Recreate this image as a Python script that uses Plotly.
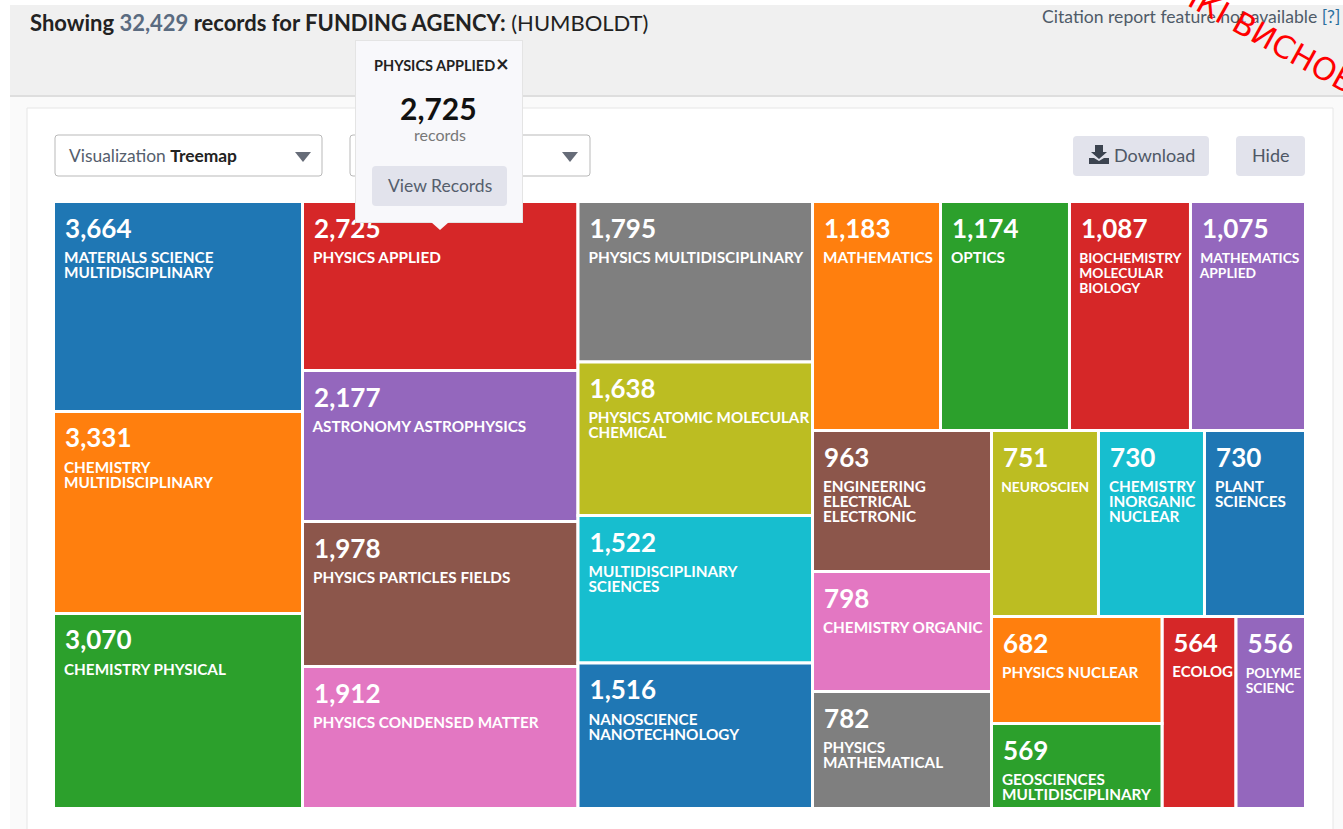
import plotly.graph_objects as go

# Displayed values (records) and labels, as printed on the tiles (clipped labels as they appear).
categories = ["MATERIALS SCIENCE<br>MULTIDISCIPLINARY", "CHEMISTRY<br>MULTIDISCIPLINARY", "CHEMISTRY PHYSICAL",
              "PHYSICS APPLIED", "ASTRONOMY ASTROPHYSICS", "PHYSICS PARTICLES FIELDS", "PHYSICS CONDENSED MATTER",
              "PHYSICS MULTIDISCIPLINARY", "PHYSICS ATOMIC MOLECULAR<br>CHEMICAL", "MULTIDISCIPLINARY<br>SCIENCES",
              "NANOSCIENCE<br>NANOTECHNOLOGY",
              "MATHEMATICS", "OPTICS", "BIOCHEMISTRY<br>MOLECULAR<br>BIOLOGY", "MATHEMATICS<br>APPLIED",
              "ENGINEERING<br>ELECTRICAL<br>ELECTRONIC", "CHEMISTRY ORGANIC", "PHYSICS<br>MATHEMATICAL",
              "NEUROSCIEN", "CHEMISTRY<br>INORGANIC<br>NUCLEAR", "PLANT<br>SCIENCES",
              "PHYSICS NUCLEAR", "GEOSCIENCES<br>MULTIDISCIPLINARY", "ECOLOG", "POLYME<br>SCIENC"]
records = [3664, 3331, 3070, 2725, 2177, 1978, 1912, 1795, 1638, 1522, 1516, 1183, 1174, 1087, 1075,
           963, 798, 782, 751, 730, 730, 682, 569, 564, 556]
# Relative tile areas: the source chart compresses area, so it is
# not proportional to the printed record counts.
tile_area = [522.9, 503.0, 485.6, 465.6, 416.0, 399.5, 391.2, 376.4, 360.0, 345.9, 341.2,
             293.1, 295.4, 277.1, 263.4, 252.4, 214.8, 209.4, 199.0, 197.2, 187.9, 182.4, 144.9, 142.1, 133.4]
# Invisible grouping: which group each tile belongs to.
tile_group = ["c1"]*3 + ["c2"]*4 + ["c3"]*4 + ["top"]*4 + ["left"]*3 + ["rtop"]*3 + ["pair"]*2 + ["rbot"]*2
group_ids = ["root", "c1", "c2", "c3", "c4", "top", "low", "left", "right", "rtop", "rbot", "pair"]
group_parents = ["", "root", "root", "root", "root", "c4", "c4", "low", "low", "right", "right", "rbot"]
palette = ["#1f77b4", "#ff7f0e", "#2ca02c", "#d62728", "#9467bd", "#8c564b", "#e377c2", "#7f7f7f", "#bcbd22", "#17becf"]

W, H = 1343, 829
def px(x): return x / W
def py(y): return 1 - y / H
CLEAR = "rgba(0,0,0,0)"
IND = "\u00a0\u00a0"
NARROW = ("MATHEMATICS<br>APPLIED", "BIOCHEMISTRY<br>MOLECULAR<br>BIOLOGY", "POLYME<br>SCIENC", "NEUROSCIEN")

def label(n, name):
    size = 13.8 if name in NARROW else 15.3
    lines = name.split("<br>")
    body = "<br>".join(f"<sub><b><span style='font-size:{size}px'>{IND}{l}</span></b></sub>" for l in lines)
    return (f"<sup><sup><span style='font-size:33.5px'>\u00a0</span>"
            f"<b><span style='font-size:26px'>{n:,}</span></b></sup></sup><br>" + body)

ids = group_ids + [f"t{i}" for i in range(len(records))]
parents = group_parents + tile_group
values = [0]*len(group_ids) + tile_area
texts = [""]*len(group_ids) + [label(n, c) for n, c in zip(records, categories)]
colors = [CLEAR]*len(group_ids) + [palette[i % 10] for i in range(len(records))]
lines = [CLEAR]*len(group_ids) + ["white"]*len(records)

fig = go.Figure(go.Treemap(
    ids=ids, parents=parents, values=values, labels=ids, branchvalues="remainder", sort=False,
    text=texts, textinfo="text", textposition="top left",
    textfont=dict(family="Lato", size=11.5, color="white"),
    marker=dict(colors=colors, line=dict(color=lines, width=3), pad=dict(t=0, l=0, r=0, b=0), depthfade=False),
    tiling=dict(packing="slice-dice", pad=0), pathbar=dict(visible=False), root=dict(color=CLEAR),
    hoverinfo="skip",
    domain=dict(x=[px(53.5), px(1305.5)], y=[py(808.5), py(201.5)]),
))

shapes = []
def rect(x0, y0, x1, y1, fill, line=None, r=0, lw=1, layer="above"):
    if r:
        p = (f"M{px(x0+r)},{py(y0)} L{px(x1-r)},{py(y0)} Q{px(x1)},{py(y0)} {px(x1)},{py(y0+r)} "
             f"L{px(x1)},{py(y1-r)} Q{px(x1)},{py(y1)} {px(x1-r)},{py(y1)} L{px(x0+r)},{py(y1)} "
             f"Q{px(x0)},{py(y1)} {px(x0)},{py(y1-r)} L{px(x0)},{py(y0+r)} Q{px(x0)},{py(y0)} {px(x0+r)},{py(y0)} Z")
        shapes.append(dict(type="path", path=p, xref="paper", yref="paper", fillcolor=fill, layer=layer,
                           line=dict(color=line or CLEAR, width=lw if line else 0)))
    else:
        shapes.append(dict(type="rect", xref="paper", yref="paper", x0=px(x0), x1=px(x1), y0=py(y1), y1=py(y0),
                           fillcolor=fill, layer=layer, line=dict(color=line or CLEAR, width=lw if line else 0)))
def poly(pts, fill):
    p = "M" + " L".join(f"{px(x)},{py(y)}" for x, y in pts) + " Z"
    shapes.append(dict(type="path", path=p, xref="paper", yref="paper", fillcolor=fill, line=dict(width=0)))

ann = []
def text(x, y, s, size, color="#333", anchor="left", family="Lato", angle=0):
    ann.append(dict(x=px(x), y=py(y), xref="paper", yref="paper", text=s, showarrow=False, xanchor=anchor,
                    yanchor="middle", textangle=angle, font=dict(family=family, size=size, color=color)))

# page chrome
rect(10, 5, 1343, 95, "#f0f0f0", layer="below")
rect(10, 95, 1343, 97, "#dedede", layer="below")
rect(10, 97, 1343, 829, "#fafafa", layer="below")
rect(27, 108, 1333, 835, "white", "#e6e6e6", layer="below")
rect(55, 135, 322, 176, "white", "#b9b9b9", r=3, layer="below")
rect(350, 135, 590, 176, "white", "#b9b9b9", r=3, layer="below")
poly([(295, 152), (311, 152), (303, 162)], "#666c78")
poly([(562, 152), (578, 152), (570, 162)], "#666c78")
rect(1073, 136, 1209, 176, "#e2e3ec", r=4, layer="below")
rect(1236, 136, 1305, 176, "#e2e3ec", r=4, layer="below")
# download icon
poly([(1095, 145), (1103, 145), (1103, 152), (1107, 152), (1099, 159), (1091, 152), (1095, 152)], "#3c4450")
poly([(1089, 158), (1094, 158), (1099, 161), (1104, 158), (1109, 158), (1109, 164), (1089, 164)], "#3c4450")
# popup
rect(355, 40, 523, 223, "#e4e4e4")
rect(356, 41, 522, 222, "#f8f8fb")
poly([(431, 222), (449, 222), (440, 230)], "#f8f8fb")
rect(372, 166, 507, 206, "#e2e3ec", r=4)

text(28, 23, "<b>Showing </b><b style='color:#5a6b80'><span style='color:#5a6b80'>32,429</span></b><b> records for FUNDING AGENCY:</b> (HUMBOLDT)", 22, "#222")
text(1342, 16, "Citation report feature not available <span style='color:#2a6f9e'>[?]</span>", 17.6, "#4f5b68", anchor="right")
text(67, 155, "Visualization <b><span style='color:#222'>Treemap</span></b>", 17.4, "#555e6d")
text(1112, 155, "Download", 18, "#4f5866")
text(1271, 155, "Hide", 18, "#4f5866", anchor="center")
text(434, 66, "<b>PHYSICS APPLIED</b>", 14.5, "#222", anchor="center")
text(502, 63, "<b>×</b>", 22, "#222", anchor="center")
text(438, 108, "<b>2,725</b>", 30, "#111", anchor="center")
text(440, 135, "records", 16, "#777", anchor="center")
text(439.5, 185, "View Records", 17.5, "#555e6d", anchor="center")
text(1292, 51, "ІКІ ВИСНОВКИ", 31, "#ff0000", anchor="center", family="DejaVu Sans", angle=29)

fig.update_layout(width=W, height=H, margin=dict(l=0, r=0, t=0, b=0), paper_bgcolor="white",
                  shapes=shapes, annotations=ann, showlegend=False)
fig.write_html("out.html", config=dict(displayModeBar=False),
               post_script="document.body.style.margin='0';document.body.style.overflow='hidden';")
